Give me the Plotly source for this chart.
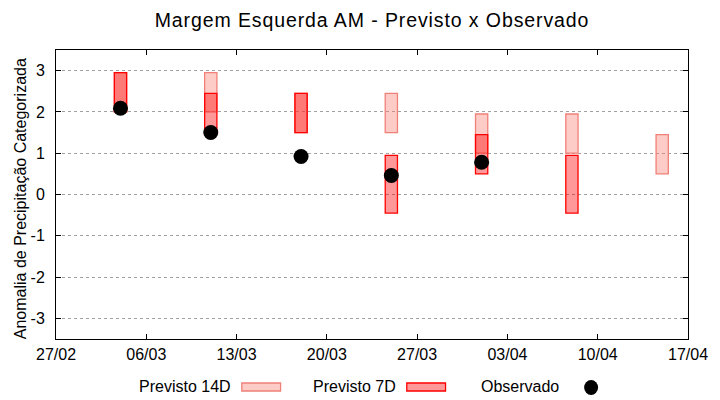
import plotly.graph_objects as go

dates = ["2023-03-04", "2023-03-11", "2023-03-18", "2023-03-25", "2023-04-01", "2023-04-08", "2023-04-15"]
p14_low = [2.0, 2.0, 1.5, 1.5, 1.0, 1.0, 0.5]
p14_high = [2.95, 2.95, 2.45, 2.45, 1.95, 1.95, 1.45]
p7_low = [2.0, 1.5, 1.5, -0.45, 0.5, -0.45, None]
p7_high = [2.95, 2.45, 2.45, 0.95, 1.45, 0.95, None]
observed = [2.09, 1.50, 0.92, 0.46, 0.78, None, None]
tick_dates = ["2023-02-27", "2023-03-06", "2023-03-13", "2023-03-20", "2023-03-27", "2023-04-03", "2023-04-10", "2023-04-17"]
tick_text = ["27/02", "06/03", "13/03", "20/03", "27/03", "03/04", "10/04", "17/04"]
y_ticks = [-3, -2, -1, 0, 1, 2, 3]
y_tick_text = ["-3", "-2", "-1", "0", "1", "2", "3"]

DAY_MS = 86400000
BAR_W = 0.95 * DAY_MS

C14_FILL = "rgba(250,128,114,0.4)"
C14_LINE = "rgb(240,128,120)"
C7_FILL = "rgba(255,0,0,0.4)"
C7_LINE = "rgb(255,0,0)"


def heights(lo, hi):
    return [None if (a is None or b is None) else b - a for a, b in zip(lo, hi)]


fig = go.Figure()
fig.add_trace(go.Bar(
    x=dates, y=heights(p14_low, p14_high), base=p14_low, width=BAR_W,
    marker=dict(color=C14_FILL, line=dict(color=C14_LINE, width=1.3)),
    name="Previsto 14D", showlegend=False))
fig.add_trace(go.Bar(
    x=dates, y=heights(p7_low, p7_high), base=p7_low, width=BAR_W,
    marker=dict(color=C7_FILL, line=dict(color=C7_LINE, width=1.3)),
    name="Previsto 7D", showlegend=False))
fig.add_trace(go.Scatter(
    x=dates, y=observed, mode="markers",
    marker=dict(color="black", size=15, symbol="circle"),
    name="Observado", showlegend=False))

FONT = "Liberation Sans"

# The page body has an 8px margin: the figure is sized so that the
# plot area lands at x 56..692, y 50..339 of the 720x400 window.
fig.update_layout(
    width=712, height=392,
    margin=dict(l=48, r=28, t=42, b=61),
    paper_bgcolor="white", plot_bgcolor="white",
    barmode="overlay",
    title=dict(text='<span style="letter-spacing:0.9px">Margem Esquerda AM - Previsto x Observado</span>',
               x=0.5, xref="paper", xanchor="center",
               y=1 - 12 / 392, yref="container", yanchor="middle",
               font=dict(family=FONT, size=19.5, color="black")),
    font=dict(family=FONT, color="black"),
)
fig.update_xaxes(
    type="date", range=["2023-02-27", "2023-04-17"],
    tickvals=tick_dates, ticktext=tick_text,
    ticks="inside", ticklen=5, tickcolor="black", tickwidth=1,
    showline=True, linecolor="black", linewidth=1, mirror="allticks",
    showgrid=False, zeroline=False, ticklabelstandoff=1,
    tickfont=dict(family=FONT, size=16, color="black"),
)
fig.update_yaxes(
    range=[-3.5, 3.5], tickvals=y_ticks, ticktext=y_tick_text,
    ticks="inside", ticklen=5, tickcolor="black", tickwidth=1,
    showline=True, linecolor="black", linewidth=1, mirror="allticks",
    showgrid=True, gridcolor="#a0a0a0", griddash="dot", gridwidth=1,
    zeroline=False, ticklabelstandoff=7, automargin=False,
    tickfont=dict(family=FONT, size=16, color="black"),
)


def px_x(px):
    return (px - 56) / 636.0


def px_y(py):
    return (339 - py) / 289.0


fig.add_annotation(text="Anomalia de Precipitação Categorizada", xref="paper", yref="paper",
                   x=px_x(20), y=px_y(199), xanchor="center", yanchor="middle", textangle=-90,
                   showarrow=False, font=dict(family=FONT, size=16, color="black"))

# Manual legend (gnuplot style: text then sample)
legend_items = [("Previsto 14D", 234), ("Previsto 7D", 400), ("Observado", 564)]
for txt, tx in legend_items:
    fig.add_annotation(text=txt, xref="paper", yref="paper", x=px_x(tx), y=px_y(386),
                       xanchor="right", yanchor="middle", showarrow=False,
                       font=dict(family=FONT, size=16, color="black"))
fig.add_shape(type="rect", xref="paper", yref="paper", x0=px_x(243), x1=px_x(282), y0=px_y(391), y1=px_y(383),
              fillcolor=C14_FILL, line=dict(color=C14_LINE, width=1.3))
fig.add_shape(type="rect", xref="paper", yref="paper", x0=px_x(409), x1=px_x(448), y0=px_y(391), y1=px_y(383),
              fillcolor=C7_FILL, line=dict(color=C7_LINE, width=1.3))
fig.add_shape(type="circle", xref="paper", yref="paper", x0=px_x(587.5), x1=px_x(601.5), y0=px_y(395), y1=px_y(380),
              fillcolor="black", line=dict(color="black", width=0))

fig.write_html("out.html", config={"displayModeBar": False})
